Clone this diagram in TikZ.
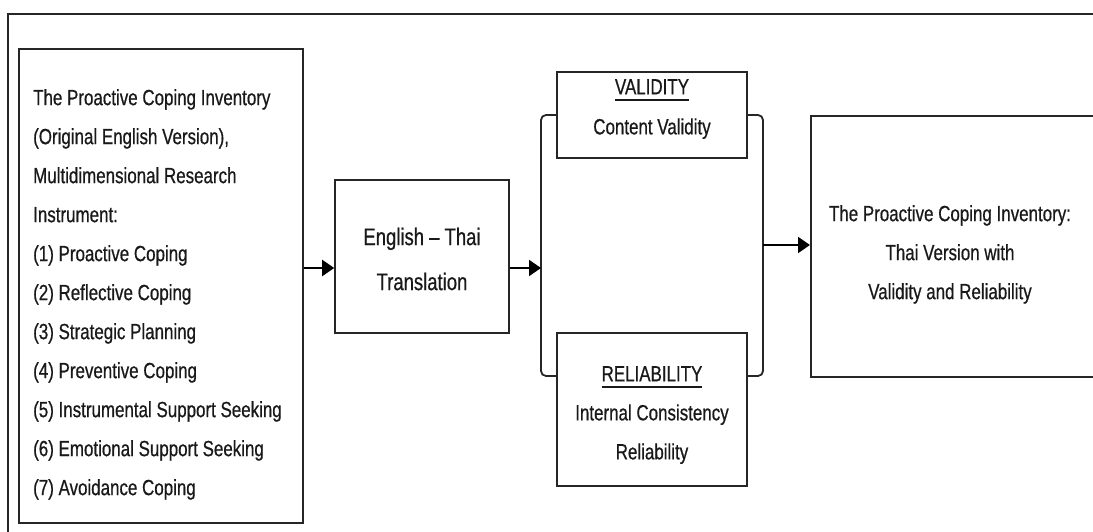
\documentclass[tikz,border=0pt]{standalone}
\usepackage{fontspec}
\setmainfont[FakeStretch=0.77,FakeBold=0.6]{Liberation Sans}
\usetikzlibrary{arrows.meta}
\newcommand\myul[1]{\setbox0\hbox{#1}\rlap{\rule[-6.2pt]{\wd0}{1.3pt}}\box0}
\begin{document}
\begin{tikzpicture}[x=1pt,y=-1pt,
  box/.style={draw=black!85, line width=1.6pt, fill=white, inner sep=0pt},
  arr/.style={line width=2pt, -{Triangle[length=12pt,width=16pt]}},
  conn/.style={line width=1.8pt, draw=black!85, rounded corners=5pt},
  txt/.style={font=\fontsize{22}{39}\selectfont, align=center, inner sep=0pt, text=black!90}]
\useasboundingbox (0,0) rectangle (1093,532);
\clip (0,0) rectangle (1093,532);
\fill[white] (0,0) rectangle (1093,532);
% outer frame
\draw[line width=1.6pt, draw=black!85] (8,14) rectangle (1120,560);
% boxes
\node[box, minimum width=284pt, minimum height=474pt] (src) at (161,286) {};
\node[box, minimum width=174pt, minimum height=153pt] (trans) at (422,256.5) {};
\node[box, minimum width=190pt, minimum height=86pt] (val) at (652,115) {};
\node[box, minimum width=190pt, minimum height=153pt] (rel) at (652,409.5) {};
\node[box, anchor=north west, minimum width=320pt, minimum height=261pt] (out) at (810,115) {};
% texts
\node[txt, align=left, anchor=north west] (srctext) at (33,89) {The Proactive Coping Inventory\\
(Original English Version),\\
Multidimensional Research\\
Instrument:\\
(1) Proactive Coping\\
(2) Reflective Coping\\
(3) Strategic Planning\\
(4) Preventive Coping\\
(5) Instrumental Support Seeking\\
(6) Emotional Support Seeking\\
(7) Avoidance Coping};
\node[txt, font=\fontsize{24}{45}\selectfont, anchor=north] (transtext) at (422,227.5) {English -- Thai\\Translation};
\node[txt, font=\fontsize{22}{40}\selectfont, anchor=north] (valtext) at (652,79) {\myul{VALIDITY}\\Content Validity};
\node[txt, anchor=north] (reltext) at (652,366) {\myul{RELIABILITY}\\Internal Consistency\\Reliability};
\node[txt, anchor=north] (outtext) at (950,205) {The Proactive Coping Inventory:\\Thai Version with\\Validity and Reliability};
% connectors
\coordinate (bl1) at (541,115);
\coordinate (bl2) at (541,376);
\coordinate (br1) at (763,115);
\coordinate (br2) at (763,376);
\coordinate (m1) at (0,268);
\coordinate (m2) at (0,245);
\draw[conn] (val.west) -- (bl1) -- (bl2) -- (rel.west |- bl2);
\draw[conn] (val.east) -- (br1) -- (br2) -- (rel.east |- br2);
\draw[arr] (src.east |- m1) -- (trans.west |- m1);
\draw[arr] (trans.east |- m1) -- (bl1 |- m1);
\draw[arr] (br1 |- m2) -- (out.west |- m2);
\end{tikzpicture}
\end{document}
